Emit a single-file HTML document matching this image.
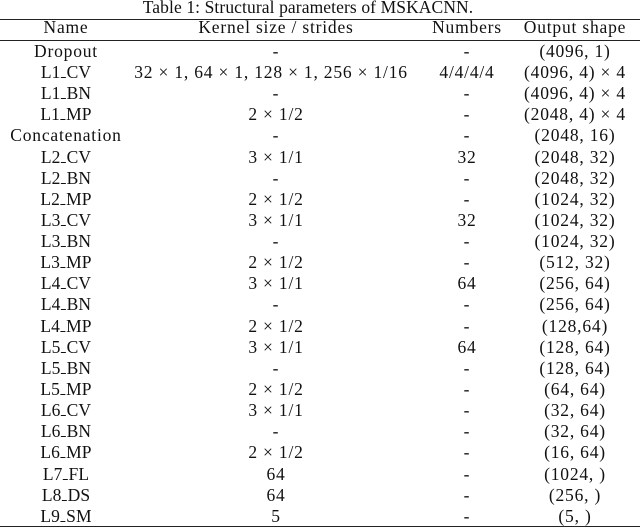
<!DOCTYPE html>
<html>
<head>
<meta charset="utf-8">
<style>
  html, body { margin:0; padding:0; background:#fff; }
  body { width:640px; height:528px; position:relative; overflow:hidden;
         font-family:"Liberation Serif", "DejaVu Serif", serif; color:#111; }
  .t { position:absolute; font-size:17.5px; line-height:20px; white-space:pre;
       letter-spacing:0.8px; transform:translateX(-50%); }
  .title { letter-spacing:0.1px; }
  .rule { position:absolute; left:0; width:640px; height:1.2px; background:#222; }
  .r { position:absolute; left:0; width:640px; height:20px; }
  .c1 { left:66px; } .c2 { left:276px; } .c3 { left:467px; } .c4 { left:575px; }
  .n { letter-spacing:0.1px; }
  .u { display:inline-block; width:5.5px; height:0; border-bottom:1.1px solid #111; margin:0 0.3px; }
</style>
</head>
<body>
<div class="t title" style="left:308px; top:-3.2px;">Table 1: Structural parameters of MSKACNN.</div>
<div class="rule" style="top:18.5px;"></div>
<div class="r" style="top:17.4px;">
  <span class="t c1">Name</span><span class="t c2">Kernel size / strides</span><span class="t c3">Numbers</span><span class="t c4">Output shape</span>
</div>
<div class="rule" style="top:40.1px;"></div>

<div class="r" style="top:40.8px;"><span class="t c1">Dropout</span><span class="t c2">-</span><span class="t c3">-</span><span class="t c4">(4096, 1)</span></div>
<div class="r" style="top:61.94px;"><span class="t c1 n">L1<span class="u"></span>CV</span><span class="t" style="left:271px;">32 × 1, 64 × 1, 128 × 1, 256 × 1/16</span><span class="t c3">4/4/4/4</span><span class="t c4">(4096, 4) × 4</span></div>
<div class="r" style="top:83.08px;"><span class="t c1 n">L1<span class="u"></span>BN</span><span class="t c2">-</span><span class="t c3">-</span><span class="t c4">(4096, 4) × 4</span></div>
<div class="r" style="top:104.22px;"><span class="t c1 n">L1<span class="u"></span>MP</span><span class="t c2">2 × 1/2</span><span class="t c3">-</span><span class="t c4">(2048, 4) × 4</span></div>
<div class="r" style="top:125.36px;"><span class="t c1">Concatenation</span><span class="t c2">-</span><span class="t c3">-</span><span class="t c4">(2048, 16)</span></div>
<div class="r" style="top:146.5px;"><span class="t c1 n">L2<span class="u"></span>CV</span><span class="t c2">3 × 1/1</span><span class="t c3">32</span><span class="t c4">(2048, 32)</span></div>
<div class="r" style="top:167.64px;"><span class="t c1 n">L2<span class="u"></span>BN</span><span class="t c2">-</span><span class="t c3">-</span><span class="t c4">(2048, 32)</span></div>
<div class="r" style="top:188.78px;"><span class="t c1 n">L2<span class="u"></span>MP</span><span class="t c2">2 × 1/2</span><span class="t c3">-</span><span class="t c4">(1024, 32)</span></div>
<div class="r" style="top:209.92px;"><span class="t c1 n">L3<span class="u"></span>CV</span><span class="t c2">3 × 1/1</span><span class="t c3">32</span><span class="t c4">(1024, 32)</span></div>
<div class="r" style="top:231.06px;"><span class="t c1 n">L3<span class="u"></span>BN</span><span class="t c2">-</span><span class="t c3">-</span><span class="t c4">(1024, 32)</span></div>
<div class="r" style="top:252.2px;"><span class="t c1 n">L3<span class="u"></span>MP</span><span class="t c2">2 × 1/2</span><span class="t c3">-</span><span class="t c4">(512, 32)</span></div>
<div class="r" style="top:273.34px;"><span class="t c1 n">L4<span class="u"></span>CV</span><span class="t c2">3 × 1/1</span><span class="t c3">64</span><span class="t c4">(256, 64)</span></div>
<div class="r" style="top:294.48px;"><span class="t c1 n">L4<span class="u"></span>BN</span><span class="t c2">-</span><span class="t c3">-</span><span class="t c4">(256, 64)</span></div>
<div class="r" style="top:315.62px;"><span class="t c1 n">L4<span class="u"></span>MP</span><span class="t c2">2 × 1/2</span><span class="t c3">-</span><span class="t c4">(128,64)</span></div>
<div class="r" style="top:336.76px;"><span class="t c1 n">L5<span class="u"></span>CV</span><span class="t c2">3 × 1/1</span><span class="t c3">64</span><span class="t c4">(128, 64)</span></div>
<div class="r" style="top:357.9px;"><span class="t c1 n">L5<span class="u"></span>BN</span><span class="t c2">-</span><span class="t c3">-</span><span class="t c4">(128, 64)</span></div>
<div class="r" style="top:379.04px;"><span class="t c1 n">L5<span class="u"></span>MP</span><span class="t c2">2 × 1/2</span><span class="t c3">-</span><span class="t c4">(64, 64)</span></div>
<div class="r" style="top:400.18px;"><span class="t c1 n">L6<span class="u"></span>CV</span><span class="t c2">3 × 1/1</span><span class="t c3">-</span><span class="t c4">(32, 64)</span></div>
<div class="r" style="top:421.32px;"><span class="t c1 n">L6<span class="u"></span>BN</span><span class="t c2">-</span><span class="t c3">-</span><span class="t c4">(32, 64)</span></div>
<div class="r" style="top:442.46px;"><span class="t c1 n">L6<span class="u"></span>MP</span><span class="t c2">2 × 1/2</span><span class="t c3">-</span><span class="t c4">(16, 64)</span></div>
<div class="r" style="top:463.6px;"><span class="t c1 n">L7<span class="u"></span>FL</span><span class="t c2">64</span><span class="t c3">-</span><span class="t c4">(1024, )</span></div>
<div class="r" style="top:484.74px;"><span class="t c1 n">L8<span class="u"></span>DS</span><span class="t c2">64</span><span class="t c3">-</span><span class="t c4">(256, )</span></div>
<div class="r" style="top:505.88px;"><span class="t c1 n">L9<span class="u"></span>SM</span><span class="t c2">5</span><span class="t c3">-</span><span class="t c4">(5, )</span></div>

<div class="rule" style="top:525.5px;"></div>
</body>
</html>
